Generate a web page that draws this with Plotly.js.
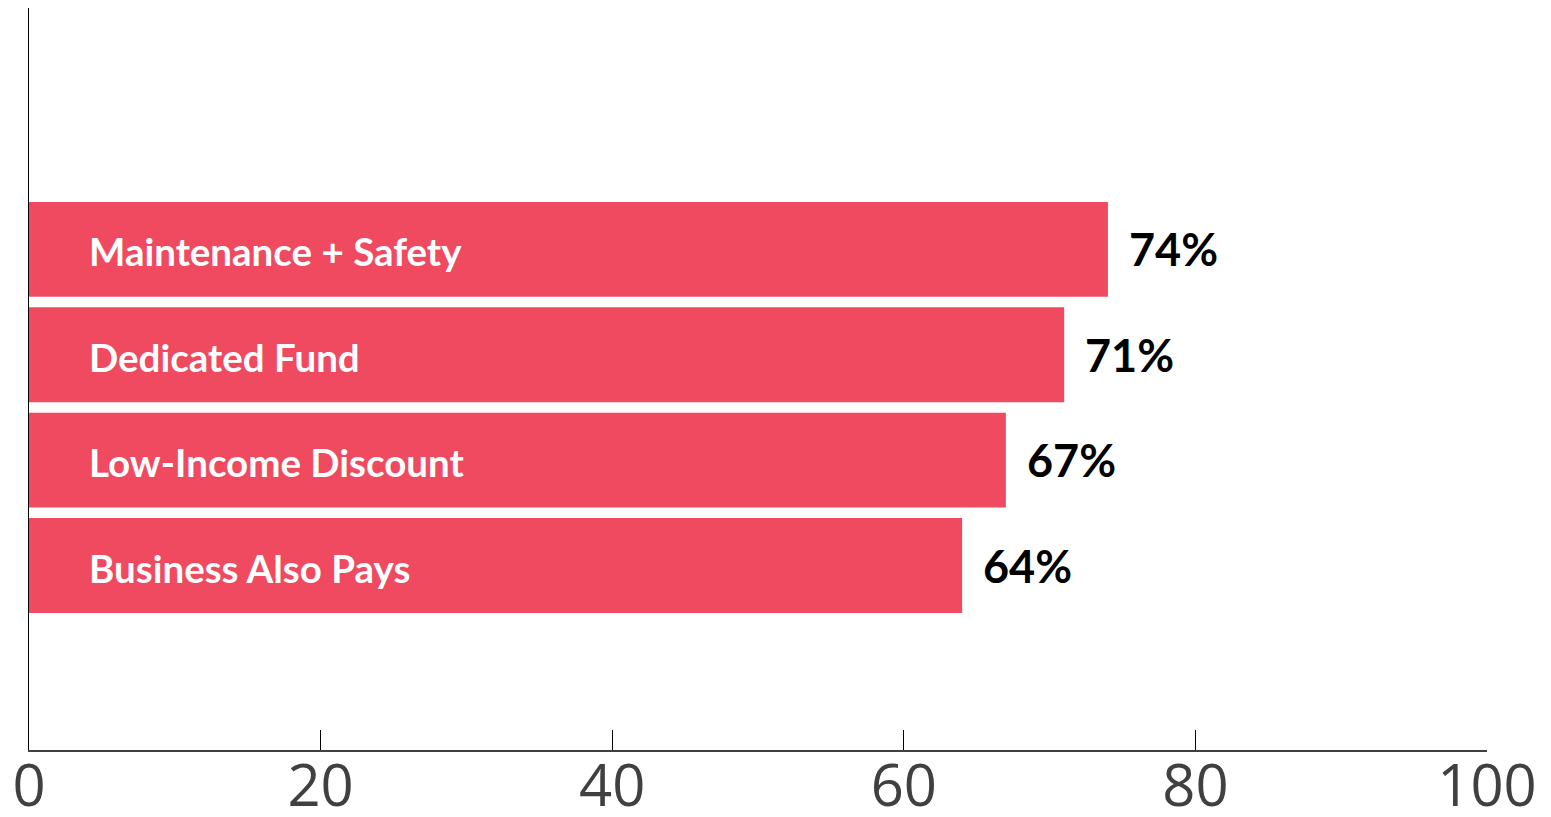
<!DOCTYPE html>
<html>
<head>
<meta charset="utf-8">
<script src="https://cdn.plot.ly/plotly-3.0.1.min.js"></script>
<style>
html,body{margin:0;padding:0;background:#fff;}
#chart{width:1551px;height:817px;}
</style>
</head>
<body>
<div id="chart"></div>
<script>
const categories = ["Maintenance + Safety", "Dedicated Fund", "Low-Income Discount", "Business Also Pays"];
const values = [74, 71, 67, 64];
const valueLabels = ["74%", "71%", "67%", "64%"];
const tickValues = [0, 20, 40, 60, 80, 100];
const tickLabels = ["0", "20", "40", "60", "80", "100"];

const barColor = "#EF4A60";

const trace = {
  type: "bar",
  orientation: "h",
  x: values,
  y: categories,
  width: 0.9,
  marker: {color: barColor, line: {width: 0}},
  hoverinfo: "none"
};

const annotations = [];
categories.forEach((c, i) => {
  annotations.push({
    x: 0, y: c, xref: "x", yref: "y",
    text: c, showarrow: false, xanchor: "left", yanchor: "middle",
    xshift: 58, yshift: -2,
    font: {family: "Lato, 'Open Sans', sans-serif", size: 38.5, color: "#ffffff", weight: 700}
  });
  annotations.push({
    x: values[i], y: c, xref: "x", yref: "y",
    text: "<b>" + valueLabels[i] + "</b>", showarrow: false, xanchor: "left", yanchor: "middle",
    xshift: 19,
    font: {family: "Lato, 'Open Sans', sans-serif", size: 45, color: "#000000"}
  });
});

const layout = {
  width: 1551, height: 817,
  margin: {l: 29, r: 64, t: 8, b: 67, pad: 0},
  paper_bgcolor: "#ffffff", plot_bgcolor: "#ffffff",
  showlegend: false,
  xaxis: {
    range: [0, 100],
    tickvals: tickValues, ticktext: tickLabels,
    ticks: "inside", ticklen: 20, tickwidth: 1.3, tickcolor: "#000000",
    ticklabelstandoff: -15,
    showline: true, linecolor: "#404040", linewidth: 1.5,
    showgrid: false, zeroline: false,
    tickfont: {family: "'Open Sans', sans-serif", size: 58, color: "#404040"}
  },
  yaxis: {
    type: "category",
    categoryorder: "array", categoryarray: categories,
    range: [4.75, -2.29],
    showticklabels: false, ticks: "",
    showline: true, linecolor: "#000000", linewidth: 1.5,
    showgrid: false, zeroline: false
  },
  annotations: annotations
};

Plotly.newPlot("chart", [trace], layout, {displayModeBar: false, staticPlot: true});
</script>
</body>
</html>
